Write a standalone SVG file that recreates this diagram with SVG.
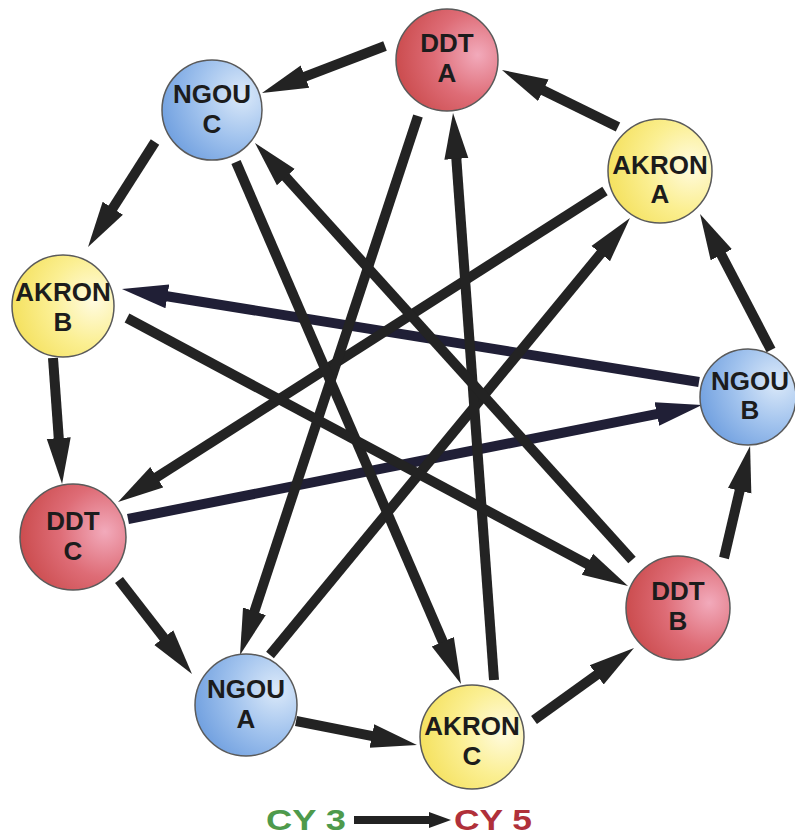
<svg xmlns="http://www.w3.org/2000/svg" width="795" height="835" viewBox="0 0 795 835">
  <defs>
    <style>
      .node circle { stroke: #5a5a5a; stroke-width: 1.5; }
      .node text { font-family: "Liberation Sans", Arial, sans-serif; font-weight: bold; font-size: 26px; fill: #1c1c1c; text-anchor: middle; }
      .edge { fill: none; stroke: #232323; stroke-width: 10; stroke-linecap: butt; marker-end: url(#head); }
      .edge.navy { stroke: #201f36; marker-end: url(#headNavy); }
      .legend { font-family: "Liberation Sans", Arial, sans-serif; font-weight: bold; font-size: 30px; }
    </style>
    <radialGradient id="gRed" cx="0.8" cy="0.45" r="0.95">
      <stop offset="0" stop-color="#f2aabb"/>
      <stop offset="0.45" stop-color="#de6c76"/>
      <stop offset="1" stop-color="#c4403f"/>
    </radialGradient>
    <radialGradient id="gBlue" cx="0.8" cy="0.35" r="0.95">
      <stop offset="0" stop-color="#dbe9f9"/>
      <stop offset="0.45" stop-color="#a3c4ee"/>
      <stop offset="1" stop-color="#6497dc"/>
    </radialGradient>
    <radialGradient id="gYellow" cx="0.8" cy="0.45" r="0.95">
      <stop offset="0" stop-color="#fffbe0"/>
      <stop offset="0.45" stop-color="#fbef92"/>
      <stop offset="1" stop-color="#f2dc4c"/>
    </radialGradient>
    <marker id="head" markerUnits="userSpaceOnUse" viewBox="0 0 46 26" markerWidth="46" markerHeight="26" refX="2" refY="13" orient="auto">
      <path d="M0,1 L46,13 L0,25 Z" fill="#232323"/>
    </marker>
    <marker id="headNavy" markerUnits="userSpaceOnUse" viewBox="0 0 46 26" markerWidth="46" markerHeight="26" refX="2" refY="13" orient="auto">
      <path d="M0,1 L46,13 L0,25 Z" fill="#201f36"/>
    </marker>
    <marker id="legendHead" markerUnits="userSpaceOnUse" viewBox="0 0 22 18" markerWidth="22" markerHeight="18" refX="1" refY="9" orient="auto">
      <path d="M0,1 L22,9 L0,17 Z" fill="#222"/>
    </marker>
  </defs>

  <rect width="795" height="835" fill="#ffffff"/>

  <!-- connectors: each path ends at the base of its arrowhead -->
  <g id="connectors">
    <!-- outer ring -->
    <path class="edge" d="M385,46 L303.1,77.3"/>
    <path class="edge" d="M618,127 L541.5,89.4"/>
    <path class="edge" d="M771,350 L720.4,253"/>
    <path class="edge" d="M724,558 L740.1,488.9"/>
    <path class="edge" d="M534,720 L598.3,673.7"/>
    <path class="edge" d="M296,721 L373.8,736.4"/>
    <path class="edge" d="M119,580 L165,639.2"/>
    <path class="edge" d="M53,358 L58.9,440.1"/>
    <path class="edge" d="M155,142 L111.7,209.9"/>
    <!-- inner star -->
    <path class="edge navy" d="M699,382 L165.4,296"/>
    <path class="edge navy" d="M128,519 L658.8,413.6"/>
    <path class="edge" d="M605,191 L155.1,478.3"/>
    <path class="edge" d="M270,655 L602,252"/>
    <path class="edge" d="M418,116 L253.8,613.2"/>
    <path class="edge" d="M494,680 L456.2,156.9"/>
    <path class="edge" d="M236,162 L443.6,643.6"/>
    <path class="edge" d="M632,560 L284.5,175.6"/>
    <path class="edge" d="M127,318 L589.2,565.2"/>
  </g>

  <g id="ddt-a" class="node">
    <circle cx="447" cy="60" r="51" fill="url(#gRed)"/>
    <text x="447" y="52">DDT</text>
    <text x="447" y="82">A</text>
  </g>
  <g id="ngou-c" class="node">
    <circle cx="212" cy="110" r="50" fill="url(#gBlue)"/>
    <text x="212" y="103">NGOU</text>
    <text x="212" y="133">C</text>
  </g>
  <g id="akron-a" class="node">
    <circle cx="660" cy="171" r="52" fill="url(#gYellow)"/>
    <text x="660" y="174">AKRON</text>
    <text x="660" y="203">A</text>
  </g>
  <g id="akron-b" class="node">
    <circle cx="63" cy="306" r="51" fill="url(#gYellow)"/>
    <text x="63" y="301">AKRON</text>
    <text x="63" y="331">B</text>
  </g>
  <g id="ngou-b" class="node">
    <circle cx="748" cy="397" r="48" fill="url(#gBlue)"/>
    <text x="750" y="390">NGOU</text>
    <text x="750" y="419">B</text>
  </g>
  <g id="ddt-c" class="node">
    <circle cx="73" cy="537" r="53" fill="url(#gRed)"/>
    <text x="73" y="530">DDT</text>
    <text x="73" y="560">C</text>
  </g>
  <g id="ddt-b" class="node">
    <circle cx="678" cy="608" r="52" fill="url(#gRed)"/>
    <text x="678" y="600">DDT</text>
    <text x="678" y="630">B</text>
  </g>
  <g id="ngou-a" class="node">
    <circle cx="246" cy="705" r="51" fill="url(#gBlue)"/>
    <text x="246" y="698">NGOU</text>
    <text x="246" y="728">A</text>
  </g>
  <g id="akron-c" class="node">
    <circle cx="472" cy="737" r="52" fill="url(#gYellow)"/>
    <text x="472" y="735">AKRON</text>
    <text x="472" y="765">C</text>
  </g>

  <!-- legend -->
  <g id="legend">
    <text class="legend" x="266" y="830" fill="#4e9a4c" textLength="80" lengthAdjust="spacingAndGlyphs">CY 3</text>
    <line x1="354" y1="820" x2="430" y2="820" stroke="#222" stroke-width="8" marker-end="url(#legendHead)"/>
    <text class="legend" x="454" y="830" fill="#b0303a" textLength="78" lengthAdjust="spacingAndGlyphs">CY 5</text>
  </g>
</svg>
